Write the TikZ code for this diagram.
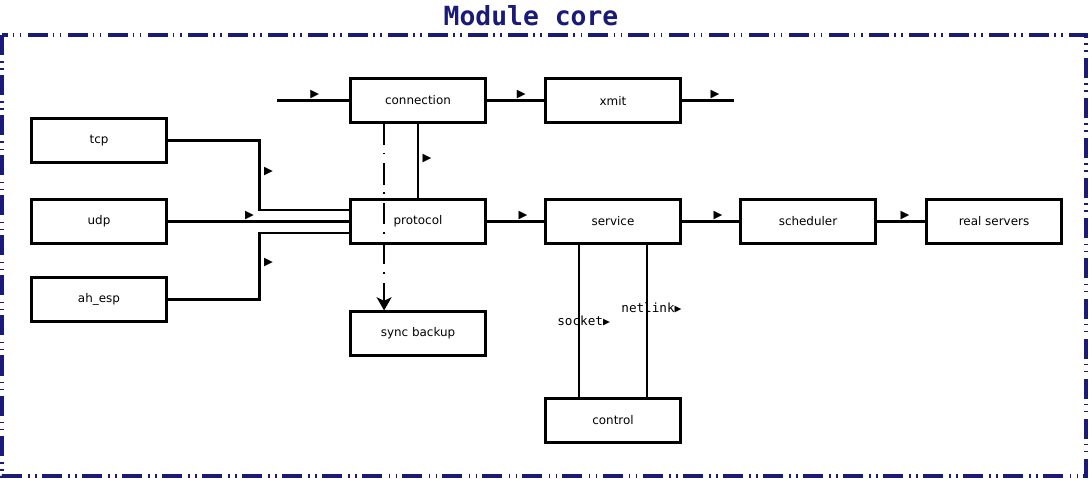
\documentclass[tikz,border=0pt]{standalone}
\usepackage{fontspec}
\setmainfont{DejaVu Sans}
\newfontfamily\monofont{DejaVu Sans Mono}
\usetikzlibrary{arrows.meta}
\definecolor{frameblue}{RGB}{26,26,120}
\newcommand{\tri}{{\fontsize{6.5}{6.5}\selectfont ▶}}

\begin{document}
\begin{tikzpicture}[x=0.02cm, y=-0.02cm,
		box/.style = {draw, line width=1.2pt, minimum width=2.7cm, minimum height=0.88cm, font=\fontsize{6.8}{8}\selectfont},
		wire/.style = {line width=1.25pt},
		arr/.style = {inner sep=0pt},
		lbl/.style = {font=\monofont\fontsize{7.2}{8}\selectfont, inner sep=0pt}]
			\useasboundingbox (0,0) rectangle (1089,480);

			\node[font=\monofont\bfseries\fontsize{15}{15}\selectfont, text=frameblue] (title) at (531,16) {Module core};
			\draw[frameblue, line width=2.3pt, dash pattern=on 11.4pt off 3.6pt on 0.9pt off 3.1pt on 0.9pt off 2.9pt] (2,35) rectangle (1086,476);

			\node[box] (tcp) at (99,140.5) {tcp};
			\node[box] (udp) at (99,221.5) {udp};
			\node[box] (ah) at (99,299.5) {ah\_esp};
			\node[box] (conn) at (418,100.5) {connection};
			\node[box] (xmit) at (613,100.5) {xmit};
			\node[box] (proto) at (418,221.5) {protocol};
			\node[box] (serv) at (613,221.5) {service};
			\node[box] (sched) at (808,221.5) {scheduler};
			\node[box] (real) at (994,221.5) {real servers};
			\node[box] (sync) at (418,333.5) {sync backup};
			\node[box] (ctrl) at (613,420.5) {control};
			\coordinate (in) at (277,100.5);
			\coordinate (out) at (734,100.5);

			\draw[wire] (in) -- node[arr,above,pos=0.52]{\tri} (conn);
			\draw[wire] (conn) -- node[arr,above,pos=0.6]{\tri} (xmit);
			\draw[wire] (xmit) -- node[arr,above,pos=0.64]{\tri} (out);
			\draw[wire] (tcp.east) -- ++(92,0) |- node[arr,right,pos=0.22,xshift=2pt]{\tri} ([yshift=6.5pt]proto.west);
			\draw[wire] (udp) -- node[arr,above,pos=0.45]{\tri} (proto);
			\draw[wire] (ah.east) -- ++(92,0) |- node[arr,right,pos=0.28,xshift=2pt]{\tri} ([yshift=-6.5pt]proto.west);
			\draw[wire] (conn) -- node[arr,right,pos=0.47,xshift=2pt]{\tri} (proto);
			\draw[wire] (proto) -- node[arr,above,pos=0.63]{\tri} (serv);
			\draw[wire] (serv) -- node[arr,above,pos=0.63]{\tri} (sched);
			\draw[wire] (sched) -- node[arr,above,pos=0.58]{\tri} (real);
			\draw[wire] ([xshift=-19.3pt]serv.south) -- node[lbl,pos=0.5,xshift=2.6pt]{socket\tri} ([xshift=-19.3pt]ctrl.north);
			\draw[wire] ([xshift=19.3pt]serv.south) -- node[lbl,pos=0.415,xshift=2.6pt]{netlink\tri} ([xshift=19.3pt]ctrl.north);
			\draw[wire, dash pattern=on 12pt off 4.5pt on 1.1pt off 5.1pt, -{Stealth[length=7.5pt,width=8.5pt,inset=2pt]}] ([xshift=-19.3pt]conn.south) -- ([xshift=-19.3pt]sync.north);
		\end{tikzpicture}
\end{document}
